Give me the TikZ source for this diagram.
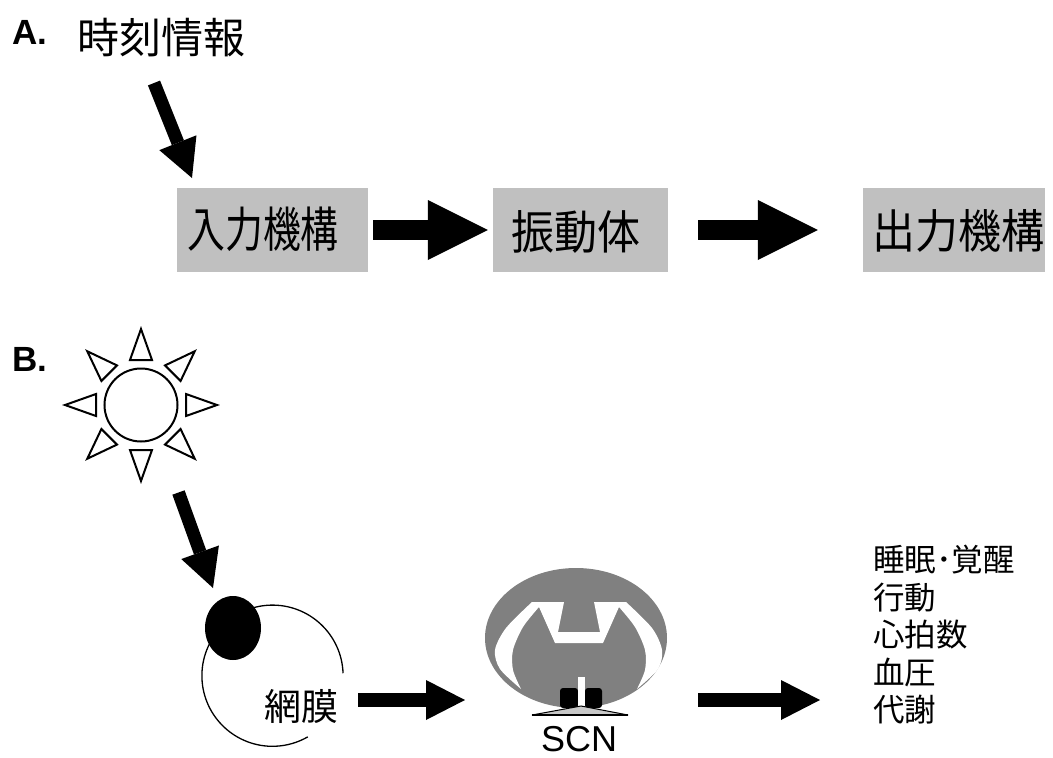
\documentclass[tikz,border=0pt]{standalone}
\usepackage{fontspec}
\setmainfont{Liberation Sans}
\newfontfamily\jpfont{Noto Sans CJK JP}
\usetikzlibrary{arrows.meta}

\definecolor{boxgray}{HTML}{C0C0C0}
\definecolor{braingray}{HTML}{808080}
\definecolor{chiasmgray}{HTML}{C8C8C8}

% font size and baseline skip, in points
\newcommand\pxfont[2]{\fontsize{#1}{#2}\selectfont}

\begin{document}
\begin{tikzpicture}[x=1pt,y=-1pt,
  stage/.style={fill=boxgray, minimum height=84pt, inner sep=0pt},
  jp/.style={font=\jpfont\pxfont{#1}{#1}, inner sep=0pt},
  panel/.style={font=\bfseries\pxfont{35}{35}, anchor=base west, inner sep=0pt},
  fatarrow/.style={line width=20pt, -{Triangle[length=60pt,width=60pt,line width=0pt]}},
  midarrow/.style={line width=14pt, -{Triangle[length=39pt,width=40pt,line width=0pt]}},
  slantarrow/.style={line width=13pt, -{Triangle[length=38pt,width=40pt,line width=0pt]}},
  ray/.style={line width=2pt}
]
\useasboundingbox (0,0) rectangle (1053,758);

% ---------------- A: input -> oscillator -> output ----------------
\node[panel] (labA) at (12,44) {A.};
\node[jp=42] (time) at (161.5,38) {時刻情報};

\node[stage, minimum width=191pt] (in) at (272.5,230) {};
\node[jp=42] (inT) at (263,229) {\scalebox{0.9}[1.15]{入力機構}};
\node[stage, minimum width=175pt] (osc) at (580.5,230) {};
\node[jp=43] (oscT) at (576,232) {\scalebox{1}[1.08]{振動体}};
\node[stage, minimum width=182pt] (out) at (954,230) {};
\node[jp=43] (outT) at (958,231) {\scalebox{1}[1.08]{出力機構}};

\coordinate (timeTail) at (154,83);
\coordinate (timeTip) at (192,178);
\draw[slantarrow] (timeTail) -- (timeTip);
\draw[fatarrow] ([xshift=5pt]in.east) -- ([xshift=-5pt]osc.west);
\draw[fatarrow] ([xshift=30pt]osc.east) -- ([xshift=-45pt]out.west);

% ---------------- B: light -> retina -> SCN -> rhythms ----------------
\node[panel] (labB) at (12,371) {B.};

% sun
\node[circle, draw, line width=2pt, minimum size=73pt, inner sep=0pt] (sun) at (141,405) {};
\begin{scope}[shift={(sun.center)}]
  \foreach \a in {0,45,...,315}
    \draw[ray, rotate=\a] (45,-11) -- (76,0) -- (45,11) -- cycle;
\end{scope}

% eye
\coordinate (eyeC) at (272.5,675.7);
\draw[line width=1.3pt] (eyeC) ++(-2:70.6) arc[start angle=-2, end angle=-300, radius=70.6];
\fill (233,628) ellipse[x radius=28, y radius=32];
\node[jp=37] (retina) at (301.5,706.5) {網膜};

\coordinate (sunTail) at (178.5,492.5);
\coordinate (eyeTip) at (213,588);
\draw[slantarrow] (sunTail) -- (eyeTip);

% brain section
\fill[braingray] (576,638) ellipse[x radius=91, y radius=70];
\fill[white] (532,602) -- (564,602) -- (558,632) -- (600,632) -- (594,602) -- (626,602)
  -- plot[smooth] coordinates {(626,602) (652,628) (662,650) (658,669) (637,689)}
  -- plot[smooth] coordinates {(637,689) (645,670) (645,650) (635,627) (619,607)}
  -- (603,643) -- (555,643) -- (539,607)
  -- plot[smooth] coordinates {(539,607) (523,627) (513,650) (513,670) (521,689)}
  -- plot[smooth] coordinates {(521,689) (500,669) (495,650) (506,628) (532,602)}
  -- cycle;
\fill[rounded corners=3pt] (560,688) rectangle (578,708);
\fill[rounded corners=3pt] (585,688) rectangle (602,708);
\fill[white] (577.5,677) rectangle (584.5,708);
\filldraw[fill=chiasmgray, line width=1pt] (532,715) -- (581,706) -- (628,715) -- cycle;
\draw[line width=2pt] (532,715) -- (628,715);
\node[font=\pxfont{36}{36}, inner sep=0pt] (scn) at (579,739) {SCN};

% rhythms
\node[font=\jpfont\pxfont{31.5}{37.5}, inner sep=0pt, anchor=north west, align=left] (outputs)
  at (873,545) {睡眠･覚醒\\行動\\心拍数\\血圧\\代謝};

\coordinate (retOut) at (358,700);
\coordinate (scnIn) at (465,700);
\coordinate (scnOut) at (698,700);
\coordinate (outIn) at (820,700);
\draw[midarrow] (retOut) -- (scnIn);
\draw[midarrow] (scnOut) -- (outIn);
\end{tikzpicture}
\end{document}
